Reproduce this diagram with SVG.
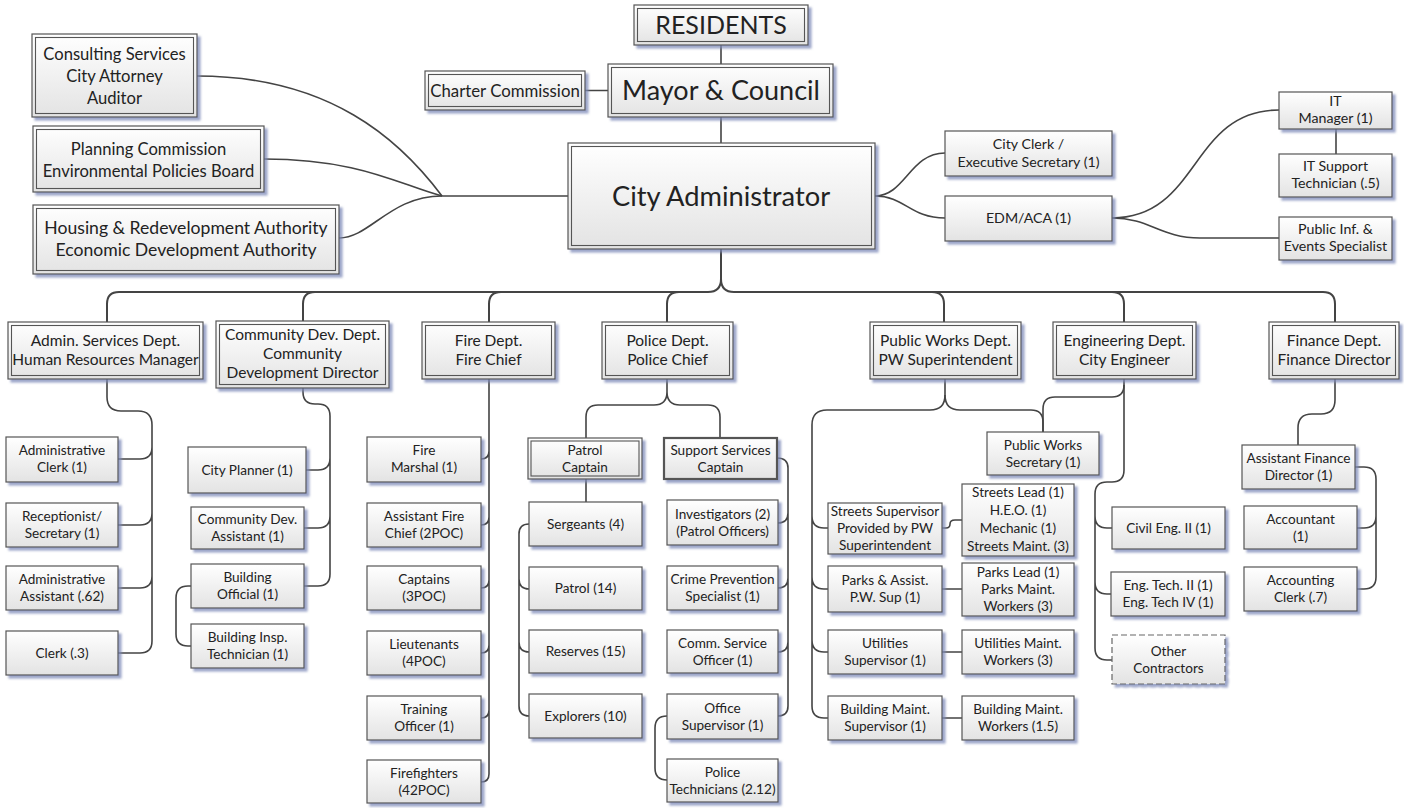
<svg xmlns="http://www.w3.org/2000/svg" width="1404" height="808" viewBox="0 0 1404 808">
<defs>
<linearGradient id="g" x1="0" y1="0" x2="0" y2="1">
<stop offset="0" stop-color="#ffffff"/>
<stop offset="1" stop-color="#e3e3e3"/>
</linearGradient>
<filter id="sh" x="-10%" y="-10%" width="130%" height="140%">
<feDropShadow dx="3" dy="3" stdDeviation="0.8" flood-color="#7d89b8" flood-opacity="0.75"/>
</filter>
<style>
.b{fill:url(#g);stroke:#555;stroke-width:1.2;filter:url(#sh)}
.i{fill:none;stroke:#555;stroke-width:1.1}
.d{fill:url(#g);stroke:#666;stroke-width:1.2;stroke-dasharray:6 3;filter:url(#sh)}
text{font-family:Lato,"Liberation Sans",sans-serif;fill:#222;text-anchor:middle}
.s{font-size:13.6px}
.t{font-size:14.2px}
.m{font-size:15.5px}
.l{font-size:16.6px}
.c{fill:none;stroke:#444;stroke-width:1.6}
.cb{fill:none;stroke:#444;stroke-width:2}
</style>
</defs>
<rect width="1404" height="808" fill="#fff"/>

<g id="connectors">
<path class="c" d="M721 45V64M721 117V143M585 90.5H608M442 196H568"/>
<path class="c" d="M197 76C330 76 400 140 442 196"/>
<path class="c" d="M264 159C360 159 400 185 442 196"/>
<path class="c" d="M339 238C370 238 390 196 442 196"/>
<path class="c" d="M875 196C905 196 910 153 945 153"/>
<path class="c" d="M875 196C905 196 910 218 945 218"/>
<path class="c" d="M1112 218C1200 218 1190 110 1279 110"/>
<path class="c" d="M1112 218C1150 218 1160 238 1200 238H1279"/>
<path class="c" d="M1336 129V154"/>
<path class="cb" d="M721 249V279Q721 292 708 292H119Q107 292 107 304V322"/>
<path class="cb" d="M721 279Q721 292 734 292H1323Q1335 292 1335 304V322"/>
<path class="cb" d="M303 321V304Q303 292 315 292M489 322V304Q489 292 501 292M667 322V304Q667 292 679 292M944 322V304Q944 292 932 292M1124 322V304Q1124 292 1112 292"/>
<path class="c" d="M107 379V397Q107 411 121 411H138Q152 411 152 425V447Q152 459 140 459H118M152 447V513Q152 525 140 525H118M152 513V576Q152 588 140 588H118M152 576V641Q152 653 140 653H118"/>
<path class="c" d="M303 388V392Q303 404 315 404H318Q330 404 330 416V458Q330 470 318 470H306M330 458V516Q330 528 318 528H304M330 516V574Q330 586 318 586H304"/>
<path class="c" d="M191 586H188Q176 586 176 598V634Q176 646 188 646H191"/>
<path class="c" d="M489 379V451Q489 459 481 459M489 451V517Q489 525 481 525M489 517V580Q489 588 481 588M489 580V645Q489 653 481 653M489 645V710Q489 718 481 718M489 710V774Q489 782 481 782"/>
<path class="c" d="M667 379V392Q667 405 654 405H598Q586 405 586 417V438M667 392Q667 405 680 405H708Q720 405 720 417V438M586 479V502"/>
<path class="c" d="M529 524Q519 524 519 534V579Q519 589 529 589M519 579V642Q519 652 529 652M519 642V706Q519 716 529 716"/>
<path class="c" d="M777 458Q788 458 788 468V513Q788 523 778 523M788 513V578Q788 588 778 588M788 578V642Q788 652 778 652M788 642V706Q788 716 778 716"/>
<path class="c" d="M667 716Q655 716 655 728V768Q655 780 667 780"/>
<path class="c" d="M945 379V395Q945 410 930 410H827Q812 410 812 425V516Q812 528 824 528H828M812 516V577Q812 589 824 589H828M812 577V640Q812 652 824 652H828M812 640V706Q812 718 824 718H828"/>
<path class="c" d="M945 395Q945 410 960 410H1031Q1043 410 1043 422V432"/>
<path class="c" d="M1124 379V385Q1124 397 1112 397H1055Q1043 397 1043 409V432"/>
<path class="c" d="M1124 385V470Q1124 482 1112 482H1107Q1095 482 1095 494V516Q1095 528 1107 528H1112M1095 516V582Q1095 594 1107 594H1111M1095 582V648Q1095 660 1107 660H1112"/>
<path class="c" d="M942 528H946Q950 528 950 524Q950 520 955 520H962M942 589H962M942 652H962M942 718H962"/>
<path class="c" d="M1335 379V400Q1335 414 1321 414H1312Q1298 414 1298 428V445"/>
<path class="c" d="M1355 467H1364Q1376 467 1376 479V516Q1376 528 1364 528H1357M1376 516V577Q1376 589 1364 589H1357"/>
</g>

<g id="residents"><rect class="b" x="634" y="5" width="174" height="40"/><rect class="i" x="637.5" y="8.5" width="167" height="33"/><text x="721" y="33.5" style="font-size:25px">RESIDENTS</text></g>
<g id="mayor"><rect class="b" x="608" y="64" width="225" height="53"/><rect class="i" x="611.5" y="67.5" width="218" height="46"/><text x="721" y="100" style="font-size:27px">Mayor &amp; Council</text></g>
<g id="charter"><rect class="b" x="425" y="71" width="160" height="39"/><rect class="i" x="428.5" y="74.5" width="153" height="32"/><text x="505" y="96.5" style="font-size:16.8px">Charter Commission</text></g>
<g id="cityadmin"><rect class="b" x="568" y="143" width="307" height="106"/><rect class="i" x="571.5" y="146.5" width="300" height="99"/><text x="721" y="205.5" style="font-size:27.3px">City Administrator</text></g>

<g id="consulting"><rect class="b" x="32" y="34" width="165" height="83"/><rect class="i" x="35.5" y="37.5" width="158" height="76"/><text class="l" x="114.5" y="60">Consulting Services<tspan x="114.5" dy="22">City Attorney</tspan><tspan x="114.5" dy="22">Auditor</tspan></text></g>
<g id="planning"><rect class="b" x="33" y="126" width="231" height="66"/><rect class="i" x="36.5" y="129.5" width="224" height="59"/><text class="l" x="148.5" y="155">Planning Commission<tspan x="148.5" dy="22">Environmental Policies Board</tspan></text></g>
<g id="housing"><rect class="b" x="33" y="205" width="306" height="69"/><rect class="i" x="36.5" y="208.5" width="299" height="62"/><text x="186" y="234" style="font-size:17.6px">Housing &amp; Redevelopment Authority<tspan x="186" dy="22">Economic Development Authority</tspan></text></g>

<g id="cityclerk"><rect class="b" x="945" y="131" width="167" height="45"/><text class="t" x="1028.5" y="149">City Clerk /<tspan x="1028.5" dy="18">Executive Secretary (1)</tspan></text></g>
<g id="edm"><rect class="b" x="945" y="196" width="167" height="45"/><text class="t" x="1028.5" y="223">EDM/ACA (1)</text></g>
<g id="itmgr"><rect class="b" x="1279" y="92" width="113" height="37"/><text class="t" x="1335.5" y="106">IT<tspan x="1335.5" dy="17">Manager (1)</tspan></text></g>
<g id="itsupport"><rect class="b" x="1279" y="154" width="113" height="43"/><text class="t" x="1335.5" y="171">IT Support<tspan x="1335.5" dy="17">Technician (.5)</tspan></text></g>
<g id="publicinf"><rect class="b" x="1279" y="217" width="113" height="43"/><text class="t" x="1335.5" y="234">Public Inf. &amp;<tspan x="1335.5" dy="17">Events Specialist</tspan></text></g>

<g id="admin"><rect class="b" x="8" y="322" width="195" height="57"/><rect class="i" x="11.5" y="325.5" width="188" height="50"/><text class="m" x="105.5" y="346">Admin. Services Dept.<tspan x="105.5" dy="19">Human Resources Manager</tspan></text></g>
<g id="commdev"><rect class="b" x="216" y="321" width="173" height="67"/><rect class="i" x="219.5" y="324.5" width="166" height="60"/><text class="m" x="302.5" y="340">Community Dev. Dept.<tspan x="302.5" dy="19">Community</tspan><tspan x="302.5" dy="19">Development Director</tspan></text></g>
<g id="fire"><rect class="b" x="422" y="322" width="133" height="57"/><rect class="i" x="425.5" y="325.5" width="126" height="50"/><text class="m" x="488.5" y="346">Fire Dept.<tspan x="488.5" dy="19">Fire Chief</tspan></text></g>
<g id="police"><rect class="b" x="602" y="322" width="131" height="57"/><rect class="i" x="605.5" y="325.5" width="124" height="50"/><text class="m" x="667.5" y="346">Police Dept.<tspan x="667.5" dy="19">Police Chief</tspan></text></g>
<g id="publicworks"><rect class="b" x="870" y="322" width="151" height="57"/><rect class="i" x="873.5" y="325.5" width="144" height="50"/><text class="m" x="945.5" y="346">Public Works Dept.<tspan x="945.5" dy="19">PW Superintendent</tspan></text></g>
<g id="engineering"><rect class="b" x="1053" y="322" width="143" height="57"/><rect class="i" x="1056.5" y="325.5" width="136" height="50"/><text class="m" x="1124.5" y="346">Engineering Dept.<tspan x="1124.5" dy="19">City Engineer</tspan></text></g>
<g id="finance"><rect class="b" x="1269" y="322" width="130" height="57"/><rect class="i" x="1272.5" y="325.5" width="123" height="50"/><text class="m" x="1334" y="346">Finance Dept.<tspan x="1334" dy="19">Finance Director</tspan></text></g>

<g id="admclerk"><rect class="b" x="6" y="437" width="112" height="45"/><text class="s" x="62" y="455">Administrative<tspan x="62" dy="17">Clerk (1)</tspan></text></g>
<g id="receptionist"><rect class="b" x="6" y="503" width="112" height="44"/><text class="s" x="62" y="521">Receptionist/<tspan x="62" dy="17">Secretary (1)</tspan></text></g>
<g id="admasst"><rect class="b" x="6" y="566" width="112" height="44"/><text class="s" x="62" y="584">Administrative<tspan x="62" dy="17">Assistant (.62)</tspan></text></g>
<g id="clerk"><rect class="b" x="6" y="631" width="112" height="44"/><text class="s" x="62" y="657.5">Clerk (.3)</text></g>

<g id="cityplanner"><rect class="b" x="188" y="447" width="118" height="46"/><text class="s" x="247" y="474.5">City Planner (1)</text></g>
<g id="cdasst"><rect class="b" x="191" y="507" width="113" height="42"/><text class="s" x="247.5" y="524">Community Dev.<tspan x="247.5" dy="17">Assistant (1)</tspan></text></g>
<g id="bldgofficial"><rect class="b" x="191" y="564" width="113" height="44"/><text class="s" x="247.5" y="582">Building<tspan x="247.5" dy="17">Official (1)</tspan></text></g>
<g id="bldginsp"><rect class="b" x="191" y="624" width="113" height="44"/><text class="s" x="247.5" y="642">Building Insp.<tspan x="247.5" dy="17">Technician (1)</tspan></text></g>

<g id="firemarshal"><rect class="b" x="367" y="437" width="114" height="45"/><text class="s" x="424" y="455">Fire<tspan x="424" dy="17">Marshal (1)</tspan></text></g>
<g id="asstfirechief"><rect class="b" x="367" y="503" width="114" height="44"/><text class="s" x="424" y="521">Assistant Fire<tspan x="424" dy="17">Chief (2POC)</tspan></text></g>
<g id="captains"><rect class="b" x="367" y="566" width="114" height="44"/><text class="s" x="424" y="584">Captains<tspan x="424" dy="17">(3POC)</tspan></text></g>
<g id="lieutenants"><rect class="b" x="367" y="631" width="114" height="44"/><text class="s" x="424" y="649">Lieutenants<tspan x="424" dy="17">(4POC)</tspan></text></g>
<g id="training"><rect class="b" x="367" y="696" width="114" height="44"/><text class="s" x="424" y="714">Training<tspan x="424" dy="17">Officer (1)</tspan></text></g>
<g id="firefighters"><rect class="b" x="367" y="760" width="114" height="43"/><text class="s" x="424" y="778">Firefighters<tspan x="424" dy="17">(42POC)</tspan></text></g>

<g id="patrolcaptain"><rect class="b" x="528" y="438" width="114" height="41"/><rect class="i" x="531" y="441" width="108" height="35"/><text class="s" x="585" y="455">Patrol<tspan x="585" dy="17">Captain</tspan></text></g>
<g id="supportcaptain"><rect class="b" x="664" y="438" width="113" height="41" style="stroke-width:2.2"/><text class="s" x="720.5" y="455">Support Services<tspan x="720.5" dy="17">Captain</tspan></text></g>
<g id="sergeants"><rect class="b" x="529" y="502" width="113" height="44"/><text class="s" x="585.5" y="528.5">Sergeants (4)</text></g>
<g id="patrol"><rect class="b" x="529" y="567" width="113" height="43"/><text class="s" x="585.5" y="593">Patrol (14)</text></g>
<g id="reserves"><rect class="b" x="529" y="630" width="113" height="43"/><text class="s" x="585.5" y="656">Reserves (15)</text></g>
<g id="explorers"><rect class="b" x="529" y="694" width="113" height="44"/><text class="s" x="585.5" y="720.5">Explorers (10)</text></g>
<g id="investigators"><rect class="b" x="667" y="500" width="111" height="45"/><text class="s" x="722.5" y="518.5">Investigators (2)<tspan x="722.5" dy="17">(Patrol Officers)</tspan></text></g>
<g id="crimeprev"><rect class="b" x="667" y="566" width="111" height="44"/><text class="s" x="722.5" y="584">Crime Prevention<tspan x="722.5" dy="17">Specialist (1)</tspan></text></g>
<g id="commservice"><rect class="b" x="667" y="630" width="111" height="43"/><text class="s" x="722.5" y="647.5">Comm. Service<tspan x="722.5" dy="17">Officer (1)</tspan></text></g>
<g id="officesup"><rect class="b" x="667" y="694" width="111" height="45"/><text class="s" x="722.5" y="712.5">Office<tspan x="722.5" dy="17">Supervisor (1)</tspan></text></g>
<g id="policetech"><rect class="b" x="667" y="759" width="111" height="43"/><text class="s" x="722.5" y="776.5">Police<tspan x="722.5" dy="17">Technicians (2.12)</tspan></text></g>

<g id="pwsecretary"><rect class="b" x="987" y="432" width="112" height="43"/><text class="s" x="1043" y="449.5">Public Works<tspan x="1043" dy="17">Secretary (1)</tspan></text></g>
<g id="streetssup"><rect class="b" x="828" y="503" width="114" height="51"/><text class="s" x="885" y="516">Streets Supervisor<tspan x="885" dy="17">Provided by PW</tspan><tspan x="885" dy="17">Superintendent</tspan></text></g>
<g id="streetslead"><rect class="b" x="962" y="484" width="112" height="72"/><text class="s" x="1018" y="497">Streets Lead (1)<tspan x="1018" dy="18">H.E.O. (1)</tspan><tspan x="1018" dy="18">Mechanic (1)</tspan><tspan x="1018" dy="18">Streets Maint. (3)</tspan></text></g>
<g id="parkssup"><rect class="b" x="828" y="566" width="114" height="46"/><text class="s" x="885" y="585">Parks &amp; Assist.<tspan x="885" dy="17">P.W. Sup (1)</tspan></text></g>
<g id="parkslead"><rect class="b" x="962" y="563" width="112" height="53"/><text class="s" x="1018" y="577">Parks Lead (1)<tspan x="1018" dy="17">Parks Maint.</tspan><tspan x="1018" dy="17">Workers (3)</tspan></text></g>
<g id="utilsup"><rect class="b" x="828" y="630" width="114" height="44"/><text class="s" x="885" y="648">Utilities<tspan x="885" dy="17">Supervisor (1)</tspan></text></g>
<g id="utilworkers"><rect class="b" x="962" y="630" width="112" height="44"/><text class="s" x="1018" y="648">Utilities Maint.<tspan x="1018" dy="17">Workers (3)</tspan></text></g>
<g id="bldgmaintsup"><rect class="b" x="828" y="696" width="114" height="44"/><text class="s" x="885" y="714">Building Maint.<tspan x="885" dy="17">Supervisor (1)</tspan></text></g>
<g id="bldgmaintworkers"><rect class="b" x="962" y="696" width="112" height="44"/><text class="s" x="1018" y="714">Building Maint.<tspan x="1018" dy="17">Workers (1.5)</tspan></text></g>

<g id="civileng"><rect class="b" x="1112" y="507" width="113" height="42"/><text class="s" x="1168.5" y="532.5">Civil Eng. II (1)</text></g>
<g id="engtech"><rect class="b" x="1111" y="572" width="114" height="44"/><text class="s" x="1168" y="590">Eng. Tech. II (1)<tspan x="1168" dy="17">Eng. Tech IV (1)</tspan></text></g>
<g id="contractors"><rect class="d" x="1112" y="635" width="113" height="49"/><text class="s" x="1168.5" y="655.5">Other<tspan x="1168.5" dy="17">Contractors</tspan></text></g>

<g id="asstfindir"><rect class="b" x="1242" y="445" width="113" height="44"/><text class="s" x="1298.5" y="463">Assistant Finance<tspan x="1298.5" dy="17">Director (1)</tspan></text></g>
<g id="accountant"><rect class="b" x="1244" y="506" width="113" height="43"/><text class="s" x="1300.5" y="523.5">Accountant<tspan x="1300.5" dy="17">(1)</tspan></text></g>
<g id="acctclerk"><rect class="b" x="1244" y="567" width="113" height="44"/><text class="s" x="1300.5" y="585">Accounting<tspan x="1300.5" dy="17">Clerk (.7)</tspan></text></g>
</svg>
